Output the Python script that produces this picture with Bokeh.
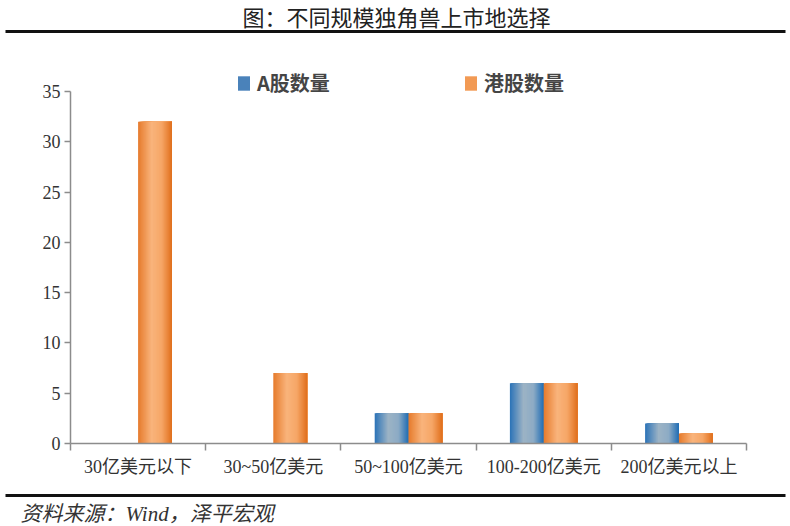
from bokeh.plotting import figure
from bokeh.models import Range1d, FixedTicker, Legend, LegendItem, Label
from bokeh.embed import file_html
from bokeh.resources import INLINE

categories = ["30亿美元以下", "30~50亿美元", "50~100亿美元", "100-200亿美元", "200亿美元以上"]
a_share = [0, 0, 3, 6, 2]
hk_share = [32, 7, 3, 6, 1]
y_ticks = [0, 5, 10, 15, 20, 25, 30, 35]
y_max = 35
series_names = ["A股数量", "港股数量"]
title_text = "图：不同规模独角兽上市地选择"
source_text = "资料来源：Wind，泽平宏观"

W, H = 790, 526
# pixel placement of the axes box on the canvas
AX_L, AX_R, AX_T, AX_B = 70, 746, 91, 443
SERIF_CJK = "'Liberation Serif', 'Noto Sans CJK SC'"
CJK = "'Noto Sans CJK SC'"

ncat = len(categories)
sx = (AX_R - AX_L) / ncat
sy = (AX_B - AX_T) / y_max
x_range = Range1d(-AX_L / sx, (W - AX_L) / sx)
y_range = Range1d(-(H - AX_B) / sy, AX_B / sy)


def dx(px):
    return (px - AX_L) / sx


def dy(py):
    return (AX_B - py) / sy


p = figure(width=W, height=H, x_range=x_range, y_range=y_range,
           output_backend="svg", toolbar_location=None, min_border=0)
p.grid.visible = False
p.outline_line_color = None
p.background_fill_color = "white"
p.border_fill_color = "white"

blue_stops = [(0.0, (0x2b, 0x73, 0xb8)), (0.4, (0x9c, 0xb3, 0xc5)), (0.7, (0x8d, 0xab, 0xc5)),
              (1.0, (0x1f, 0x6d, 0xb4))]
orange_stops = [(0.0, (0xe6, 0x7b, 0x2c)), (0.4, (0xf9, 0xb4, 0x7c)), (0.7, (0xf6, 0xa6, 0x66)),
                (1.0, (0xe0, 0x6f, 0x1c))]


def grad(stops, t):
    for (t0, c0), (t1, c1) in zip(stops[:-1], stops[1:]):
        if t0 <= t <= t1:
            f = (t - t0) / (t1 - t0)
            c = [round(a + (b - a) * f) for a, b in zip(c0, c1)]
            return "#%02x%02x%02x" % tuple(c)
    return "#%02x%02x%02x" % stops[-1][1]


N = 34
bw = 0.25
step = bw / N
for s, (vals, stops) in enumerate([(a_share, blue_stops), (hk_share, orange_stops)]):
    starts = [i + 0.5 + (s - 1) * bw for i in range(ncat)]
    for k in range(N):
        t = (k + 0.5) / N
        p.quad(left=[x0 + k * step for x0 in starts], right=[x0 + bw for x0 in starts],
               top=vals, bottom=0, fill_color=grad(stops, t), line_color=None)

# legend swatches: zero-height bars (invisible in the plot)
zero = [0] * ncat
centers = [i + 0.5 for i in range(ncat)]
leg_blue = p.vbar(x=centers, top=zero, bottom=zero, width=0.01,
                  fill_color="#4a82ba", line_color=None)
leg_orange = p.vbar(x=centers, top=zero, bottom=zero, width=0.01,
                    fill_color="#f29a54", line_color=None)
legend = Legend(items=[LegendItem(label=series_names[0], renderers=[leg_blue]),
                       LegendItem(label=series_names[1], renderers=[leg_orange])],
                orientation="horizontal", location=(236, H - 97),
                glyph_width=15, glyph_height=18, label_standoff=6, label_width=206,
                label_height=20, spacing=0, padding=0, margin=0, border_line_color=None,
                background_fill_alpha=0, label_text_font_size="20px",
                label_text_font=CJK, label_text_font_style="bold",
                label_text_color="#454545")
p.add_layout(legend)

axis_col = "#8c8c8c"
p.xaxis.fixed_location = 0
p.xaxis.bounds = (0, ncat)
p.xaxis.ticker = FixedTicker(ticks=centers, minor_ticks=list(range(ncat + 1)))
p.xaxis.major_label_overrides = {c: lab for c, lab in zip(centers, categories)}
p.xaxis.major_tick_out = 0
p.xaxis.major_tick_in = 0
p.xaxis.minor_tick_out = 7
p.xaxis.minor_tick_in = 0
p.xaxis.minor_tick_line_color = axis_col
p.xaxis.axis_line_color = axis_col
p.xaxis.axis_line_width = 1.5
p.xaxis.minor_tick_line_width = 1.5
p.xaxis.major_label_standoff = 6
p.xaxis.major_label_text_font = SERIF_CJK
p.xaxis.major_label_text_font_size = "18px"
p.xaxis.major_label_text_color = "#333333"

p.yaxis.fixed_location = 0
p.yaxis.bounds = (0, y_max)
p.yaxis.ticker = FixedTicker(ticks=y_ticks, minor_ticks=[])
p.yaxis.major_tick_out = 6
p.yaxis.major_tick_in = 0
p.yaxis.minor_tick_out = 0
p.yaxis.minor_tick_in = 0
p.yaxis.major_tick_line_color = axis_col
p.yaxis.axis_line_color = axis_col
p.yaxis.axis_line_width = 1.5
p.yaxis.major_tick_line_width = 1.5
p.yaxis.major_label_standoff = 4
p.yaxis.major_label_text_font = "Liberation Serif"
p.yaxis.major_label_text_font_size = "18px"
p.yaxis.major_label_text_color = "#333333"

# header: title + thick rule
p.add_layout(Label(x=dx(396), y=dy(15), text=title_text, text_align="center",
                   text_baseline="middle", text_font_size="22px",
                   text_color="#222222", text_font=CJK))
p.segment(x0=[dx(5)], y0=[dy(31)], x1=[dx(785)], y1=[dy(31)],
          line_width=3, line_color="#111111", line_cap="butt")
# footer: thick rule + source
p.segment(x0=[dx(5)], y0=[dy(495)], x1=[dx(785)], y1=[dy(495)],
          line_width=3, line_color="#111111", line_cap="butt")
p.add_layout(Label(x=dx(20), y=dy(513), text=source_text, text_align="left",
                   text_baseline="middle", text_font_size="21px",
                   text_font_style="italic", text_color="#333333",
                   text_font=SERIF_CJK))

open("out.html", "w").write(file_html(p, INLINE))
